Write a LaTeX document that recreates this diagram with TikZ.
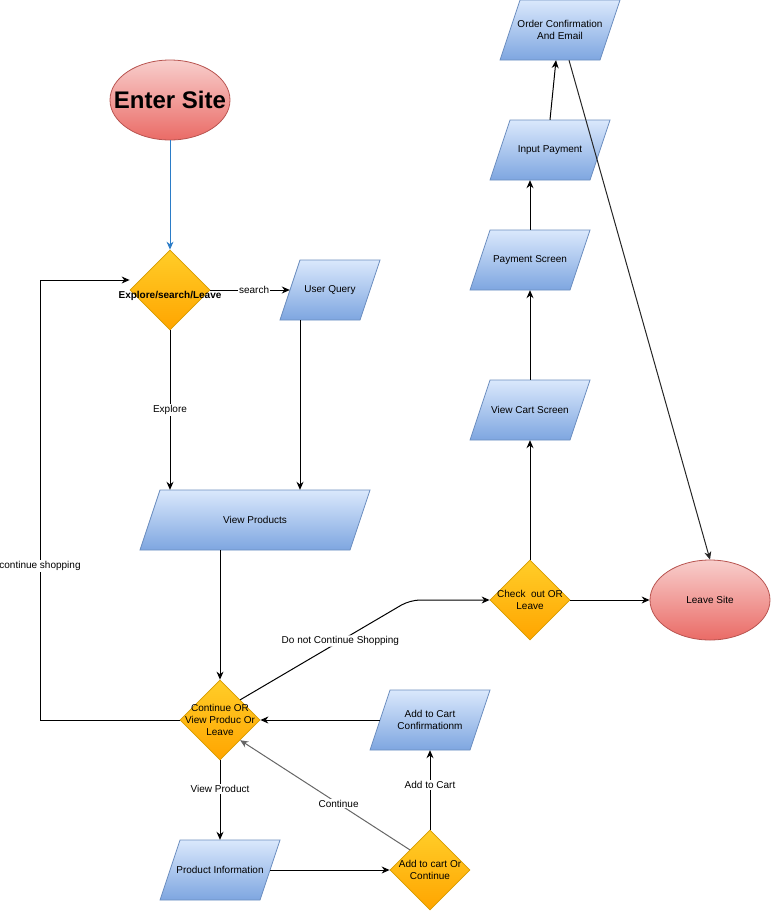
\documentclass[tikz,border=0pt]{standalone}
\usepackage{fontspec}
\setmainfont{Liberation Sans}
\usetikzlibrary{shapes.geometric,arrows.meta,calc}
\definecolor{pTop}{HTML}{DAE8FC}
\definecolor{pBot}{HTML}{7EA6E0}
\definecolor{pLine}{HTML}{6C8EBF}
\definecolor{dTop}{HTML}{FFCD28}
\definecolor{dBot}{HTML}{FFA500}
\definecolor{dLine}{HTML}{D79B00}
\definecolor{eTop}{HTML}{F8CECC}
\definecolor{eBot}{HTML}{EA6B66}
\definecolor{eLine}{HTML}{B85450}
\definecolor{blueArr}{HTML}{2B7CC7}
\definecolor{grayArr}{HTML}{666666}
\tikzset{
  pshape/.style={top color=pTop, bottom color=pBot, draw=pLine, line width=0.8pt},
  txt/.style={inner sep=0pt, align=center, font=\fontsize{10}{12}\selectfont},
  dia/.style={diamond, minimum width=80pt, minimum height=80pt, inner sep=0pt, top color=dTop, bottom color=dBot, draw=dLine, line width=0.8pt},
  ell/.style={ellipse, minimum width=120pt, minimum height=80pt, inner sep=0pt, top color=eTop, bottom color=eBot, draw=eLine, line width=0.8pt, align=center},
  arr/.style={draw=black, line width=1pt, -{Stealth[length=8pt,width=7pt]}},
  elbl/.style={fill=white, inner sep=1pt, font=\fontsize{10}{12}\selectfont},
}
\newcommand\parabox[5]{%
  \path[pshape] ({#2-#4/2+20},{-#3+30}) -- ({#2+#4/2},{-#3+30}) -- ({#2+#4/2-20},{-#3-30}) -- ({#2-#4/2},{-#3-30}) -- cycle;
  \node[txt, minimum width=#4pt, minimum height=60pt] (#1) at (#2,-#3) {#5};
}
\begin{document}
\begin{tikzpicture}[x=1pt, y=1pt]
\useasboundingbox (0,0) rectangle (771,-911);

% ellipses
\node[ell] (es) at (170,-100) {};
\node[txt, font=\fontsize{24}{26}\selectfont\bfseries] (esT) at (170,-100) {Enter Site};
\node[ell] (ls) at (710,-600) {};
\node[txt] (lsT) at (710,-600) {Leave Site};

% diamonds
\node[dia] (ex) at (170,-290) {};
\node[txt, font=\fontsize{10}{12}\selectfont\bfseries] (exT) at (170,-296) {Explore/search/Leave};
\node[dia] (cv) at (220,-720) {};
\node[txt] (cvT) at (220,-720) {Continue OR\\View Produc Or\\Leave};
\node[dia] (ad) at (430,-870) {};
\node[txt] (adT) at (430,-870) {Add to cart Or\\Continue};
\node[dia] (ck) at (530,-600) {};
\node[txt] (ckT) at (530,-600) {Check\ \ out OR\\Leave};

% parallelograms
\parabox{uq}{330}{290}{100}{User Query}
\parabox{vp}{255}{520}{230}{View Products}
\parabox{ac}{430}{720}{120}{Add to Cart\\Confirmationm}
\parabox{pi}{220}{870}{120}{Product Information}
\parabox{vc}{530}{410}{120}{View Cart Screen}
\parabox{ps}{530}{260}{120}{Payment Screen}
\parabox{ip}{550}{150}{120}{Input Payment}
\parabox{oc}{560}{30}{120}{Order Confirmation\\ And Email}

\coordinate (bend) at (410,-600);
\coordinate (loopA) at (40,-720);
\coordinate (loopB) at (40,-280);

% connectors
\draw[arr, draw=blueArr] (es.south) -- (ex.north);
\draw[arr] (ex.east) -- node[elbl, pos=0.55] {search} ([xshift=10pt]uq.west);
\draw[arr] ([xshift=-30pt]uq.south) -- ([xshift=-30pt]uq.south |- vp.north);
\draw[arr] (ex.south) -- node[elbl] {Explore} (ex.south |- vp.north);
\draw[arr] (cv.north |- vp.south) -- (cv.north);
\draw[arr] (cv.west) -- (loopA) -- node[elbl, pos=0.35] {continue shopping} (loopB) -- ([yshift=10pt]ex.west);
\draw[arr] ([xshift=10pt]ac.west) -- (cv.east);
\draw[arr] (cv.south) -- node[elbl, pos=0.36] {View Product} (pi.north);
\draw[arr] ([xshift=-10pt]pi.east) -- (ad.west);
\draw[arr] (ad.north) -- node[elbl, pos=0.56] {Add to Cart} (ac.south);
\draw[arr, draw=grayArr] (ad.north west) -- node[elbl, pos=0.42] {Continue} (cv.south east);
\draw[arr, rounded corners=10pt] (cv.north east) -- node[elbl, pos=0.59] {Do not Continue Shopping} (bend) -- (ck.west);
\draw[arr] (ck.east) -- (ls.west);
\draw[arr] (ck.north) -- (vc.south);
\draw[arr] (vc.north) -- (ps.south);
\draw[arr] (ps.north) -- (ps.north |- ip.south);
\draw[arr] (ip.north) -- ([xshift=-4pt]oc.south);
\draw[arr, draw=black!85] ([xshift=9pt]oc.south) -- (ls.north);
\end{tikzpicture}
\end{document}
